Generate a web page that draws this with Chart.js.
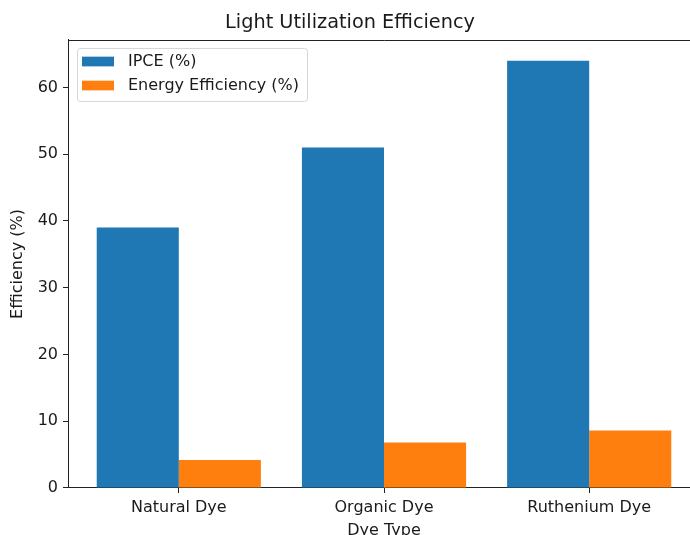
<!DOCTYPE html>
<html><head><meta charset="utf-8">
<script src="https://cdn.jsdelivr.net/npm/chart.js@4"></script>
<style>
html,body{margin:0;padding:0;overflow:hidden;background:#fff;width:690px;height:535px}
#wrap{width:720px;height:545px;position:relative}
canvas{display:block}
</style></head>
<body><div id="wrap"><canvas id="c" width="720" height="545"></canvas></div>
<script>
const categories = ['Natural Dye', 'Organic Dye', 'Ruthenium Dye'];
const ipceValues = [39, 51, 64];
const energyValues = [4.2, 6.8, 8.6];
const yTickValues = [0, 10, 20, 30, 40, 50, 60];
const seriesLabels = ['IPCE (%)', 'Energy Efficiency (%)'];
const seriesColors = ['#1f77b4', '#ff7f0e'];

const FONT = "'DejaVu Sans', sans-serif";
const TXT = '#1a1a1a';
const FS = 16;

const positions = categories.map((_, i) => i);

const topSpine = {
  id: 'topSpine',
  afterDraw(chart) {
    const {ctx, chartArea: a} = chart;
    ctx.save();
    ctx.strokeStyle = '#222';
    ctx.lineWidth = 1;
    ctx.beginPath();
    ctx.moveTo(a.left, Math.round(a.top) + 0.5);
    ctx.lineTo(a.right + 0.5, Math.round(a.top) + 0.5);
    ctx.moveTo(Math.round(a.right) + 0.5, a.top);
    ctx.lineTo(Math.round(a.right) + 0.5, a.bottom);
    ctx.stroke();
    ctx.restore();
  }
};

const boxLegend = {
  id: 'boxLegend',
  afterDraw(chart) {
    const {ctx, chartArea: a} = chart;
    const x0 = a.left + 9, y0 = a.top + 8, w = 230, h = 53, r = 3;
    ctx.save();
    ctx.fillStyle = 'rgba(255,255,255,0.8)';
    ctx.strokeStyle = 'rgba(204,204,204,0.8)';
    ctx.lineWidth = 1;
    ctx.beginPath();
    ctx.roundRect(x0 + 0.5, y0 + 0.5, w, h, r);
    ctx.fill();
    ctx.stroke();
    ctx.font = FS + 'px ' + FONT;
    ctx.textBaseline = 'middle';
    ctx.textAlign = 'left';
    chart.data.datasets.forEach((ds, i) => {
      const cy = y0 + 13.5 + i * 24;
      ctx.fillStyle = ds.backgroundColor;
      ctx.fillRect(x0 + 5, cy - 4.8, 32, 9.7);
      ctx.fillStyle = TXT;
      ctx.fillText(ds.label, x0 + 51, cy);
    });
    ctx.restore();
  }
};

new Chart(document.getElementById('c'), {
  type: 'bar',
  data: {
    datasets: [
      { label: seriesLabels[0], data: positions.map((p, i) => ({x: p, y: ipceValues[i]})), backgroundColor: seriesColors[0], borderWidth: 0 },
      { label: seriesLabels[1], data: positions.map((p, i) => ({x: p, y: energyValues[i]})), backgroundColor: seriesColors[1], borderWidth: 0 }
    ]
  },
  options: {
    responsive: false,
    animation: false,
    devicePixelRatio: 1,
    categoryPercentage: 0.8,
    barPercentage: 1.0,
    layout: { padding: { top: 0, left: 0, right: 20, bottom: 0 } },
    plugins: {
      legend: { display: false },
      tooltip: { enabled: false },
      title: {
        display: true,
        text: 'Light Utilization Efficiency',
        color: TXT,
        font: { family: FONT, size: 19.3, weight: 'normal' },
        padding: { top: 11.4, bottom: 5.4 }
      }
    },
    scales: {
      x: {
        type: 'linear',
        min: -0.54,
        max: 2.54,
        offset: false,
        afterBuildTicks(scale) { scale.ticks = positions.map(v => ({value: v})); },
        afterFit(scale) { scale.height = 57; },
        grid: { display: true, offset: false, drawOnChartArea: false, drawTicks: true, tickLength: 5, color: '#222', lineWidth: 1 },
        border: { display: true, color: '#222', width: 1 },
        ticks: {
          color: TXT, padding: 5, maxRotation: 0, autoSkip: false,
          font: { family: FONT, size: FS },
          callback: (v) => categories[v] ?? ''
        },
        title: {
          display: true, text: 'Dye Type', color: TXT,
          font: { family: FONT, size: FS },
          padding: { top: 0, bottom: 4.4 }
        }
      },
      y: {
        min: 0,
        max: 67.1,
        afterBuildTicks(scale) { scale.ticks = yTickValues.map(v => ({value: v})); },
        afterFit(scale) { scale.width = 68; },
        grid: { display: true, drawOnChartArea: false, drawTicks: true, tickLength: 5, color: '#222', lineWidth: 1 },
        border: { display: true, color: '#222', width: 1 },
        ticks: { color: TXT, padding: 5, font: { family: FONT, size: FS } },
        title: {
          display: true, text: 'Efficiency (%)', color: TXT,
          font: { family: FONT, size: FS },
          padding: { top: 8.4, bottom: 0 }
        }
      }
    }
  },
  plugins: [topSpine, boxLegend]
});
</script>
</body></html>
